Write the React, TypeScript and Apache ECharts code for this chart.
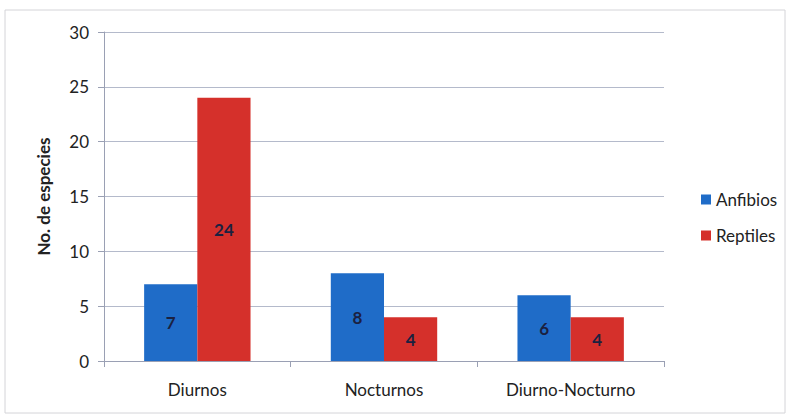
import React, { useEffect, useRef } from "react";
import * as echarts from "echarts";

const categories = ["Diurnos", "Nocturnos", "Diurno-Nocturno"];
const anfibios = [7, 8, 6];
const reptiles = [24, 4, 4];
const seriesNames = ["Anfibios", "Reptiles"];
const yAxisTitle = "No. de especies";

const FONT = "Lato, 'Open Sans', sans-serif";

export default function App() {
  const ref = useRef<HTMLDivElement>(null);

  useEffect(() => {
    if (!ref.current) return;
    const chart = echarts.init(ref.current, null, { renderer: "svg" });
    const label = {
      show: true,
      position: "inside",
      color: "#1b2140",
      fontWeight: "bold",
      fontSize: 17,
      fontFamily: FONT,
    };
    chart.setOption({
      animation: false,
      backgroundColor: "#ffffff",
      textStyle: { fontFamily: FONT },
      graphic: [
        {
          type: "rect",
          shape: { x: 5, y: 10, width: 780, height: 403 },
          style: { fill: "none", stroke: "#d4d4d8", lineWidth: 1 },
          silent: true,
        },
      ],
      grid: { left: 104, right: 128, top: 32, bottom: 59 },
      legend: {
        orient: "vertical",
        left: 696,
        top: 186,
        itemWidth: 10,
        itemHeight: 10,
        itemGap: 19,
        icon: "rect",
        data: seriesNames,
        textStyle: { fontSize: 17, color: "#222", fontFamily: FONT },
      },
      xAxis: {
        type: "category",
        data: categories,
        axisLine: { lineStyle: { color: "#9aa0b4" } },
        axisTick: { show: true, length: 6, lineStyle: { color: "#9aa0b4" } },
        axisLabel: { color: "#222", fontSize: 17, margin: 20, fontFamily: FONT },
      },
      yAxis: {
        type: "value",
        min: 0,
        max: 30,
        interval: 5,
        name: yAxisTitle,
        nameLocation: "middle",
        nameGap: 52,
        nameTextStyle: { fontSize: 17, fontWeight: "bold", color: "#222", fontFamily: FONT },
        axisLine: { show: true, lineStyle: { color: "#9aa0b4" } },
        axisTick: { show: true, length: 6, lineStyle: { color: "#9aa0b4" } },
        axisLabel: { color: "#222", fontSize: 17, margin: 15, fontFamily: FONT },
        splitLine: { lineStyle: { color: "#b4bacb" } },
      },
      series: [
        {
          name: seriesNames[0],
          type: "bar",
          data: anfibios,
          barGap: "0%",
          barCategoryGap: "43%",
          itemStyle: { color: "#1f6cc8" },
          label,
        },
        {
          name: seriesNames[1],
          type: "bar",
          data: reptiles,
          barGap: "0%",
          barCategoryGap: "43%",
          itemStyle: { color: "#d5302b" },
          label,
        },
      ],
    });
    return () => chart.dispose();
  }, []);

  return (
    <div
      ref={ref}
      style={{ position: "fixed", left: 0, top: 0, width: 792, height: 420 }}
    />
  );
}
